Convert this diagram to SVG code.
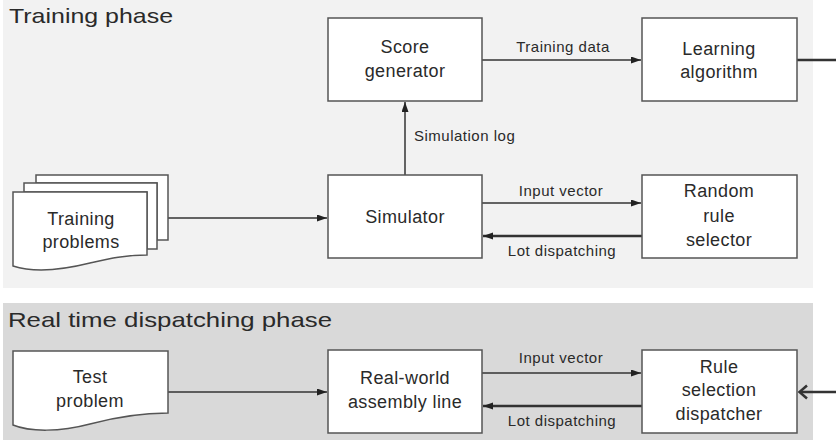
<svg xmlns="http://www.w3.org/2000/svg" width="836" height="440" viewBox="0 0 836 440">
  <style>
    .panel-a { fill: #f2f2f2; }
    .panel-b { fill: #d9d9d9; }
    .box { fill: #ffffff; stroke: #555555; stroke-width: 1.5; }
    .doc { fill: #ffffff; stroke: #555555; stroke-width: 1.5; stroke-linejoin: miter; }
    text { font-family: "Liberation Sans", Arial, sans-serif; fill: #2a2a2a; }
    .title { font-size: 21px; }
    .node { font-size: 18px; text-anchor: middle; letter-spacing: 0.4px; }
    .lbl { font-size: 15px; text-anchor: middle; letter-spacing: 0.5px; }
    .lbl-start { font-size: 15px; letter-spacing: 0.5px; }
    .edge { stroke: #333333; stroke-width: 1.5; fill: none; }
    .edge-bold { stroke: #333333; stroke-width: 2.5; fill: none; }
  </style>
  <defs>
    <marker id="arrow" markerUnits="userSpaceOnUse" markerWidth="11" markerHeight="8" refX="10" refY="3.5" orient="auto">
      <path d="M0,0 L10,3.5 L0,7 z" fill="#222222"/>
    </marker>
  </defs>

  <!-- phase panels -->
  <rect class="panel-a" x="3" y="0" width="810" height="288"/>
  <rect class="panel-b" x="3" y="303" width="810" height="137"/>
  <text class="title" x="9" y="23" textLength="164" lengthAdjust="spacingAndGlyphs">Training phase</text>
  <text class="title" x="8" y="327" textLength="324" lengthAdjust="spacingAndGlyphs">Real time dispatching phase</text>

  <!-- connectors -->
  <g id="connectors">
    <line class="edge" x1="482" y1="60" x2="641" y2="60" marker-end="url(#arrow)"/>
    <text class="lbl" x="563" y="52">Training data</text>
    <line class="edge" x1="405" y1="175" x2="405" y2="102" marker-end="url(#arrow)"/>
    <text class="lbl-start" x="414" y="141">Simulation log</text>
    <line class="edge" x1="168" y1="218" x2="327" y2="218" marker-end="url(#arrow)"/>
    <line class="edge" x1="482" y1="203" x2="641" y2="203" marker-end="url(#arrow)"/>
    <text class="lbl" x="561" y="196">Input vector</text>
    <line class="edge-bold" x1="642" y1="236" x2="483" y2="236" marker-end="url(#arrow)"/>
    <text class="lbl" x="562" y="256">Lot dispatching</text>
    <line class="edge-bold" x1="797" y1="60" x2="836" y2="60"/>

    <line class="edge" x1="168" y1="392" x2="327" y2="392" marker-end="url(#arrow)"/>
    <line class="edge" x1="482" y1="373" x2="641" y2="373" marker-end="url(#arrow)"/>
    <text class="lbl" x="561" y="363">Input vector</text>
    <line class="edge-bold" x1="642" y1="406" x2="483" y2="406" marker-end="url(#arrow)"/>
    <text class="lbl" x="562" y="426">Lot dispatching</text>
    <line class="edge-bold" x1="836" y1="392" x2="800" y2="392"/>
    <polyline class="edge-bold" points="807,385.5 799.5,392 807,398.5"/>
  </g>

  <!-- training phase nodes -->
  <g id="training-problems">
    <path class="doc" d="M36,175 H168 V240 H157 V183 H36 Z"/>
    <path class="doc" d="M24,183 H157 V249 H147 V192 H24 Z"/>
    <path class="doc" d="M13,192 H147 V255 C125,255 108,259 90,263 C62,270 35,273 13,266 Z"/>
    <text class="node" x="81" y="225">Training</text>
    <text class="node" x="81" y="248">problems</text>
  </g>
  <g id="score-generator">
    <rect class="box" x="328" y="18" width="154" height="83"/>
    <text class="node" x="405" y="53">Score</text>
    <text class="node" x="405" y="77">generator</text>
  </g>
  <g id="learning-algorithm">
    <rect class="box" x="642" y="18" width="155" height="83"/>
    <text class="node" x="719" y="55">Learning</text>
    <text class="node" x="719" y="78">algorithm</text>
  </g>
  <g id="simulator">
    <rect class="box" x="328" y="175" width="154" height="83"/>
    <text class="node" x="405" y="223">Simulator</text>
  </g>
  <g id="random-rule-selector">
    <rect class="box" x="642" y="175" width="155" height="83"/>
    <text class="node" x="719" y="197">Random</text>
    <text class="node" x="719" y="222">rule</text>
    <text class="node" x="719" y="246">selector</text>
  </g>

  <!-- real time dispatching phase nodes -->
  <g id="test-problem">
    <path class="doc" d="M13,351 H168 V413 C145,413 120,416 90,424 C60,432 30,432 13,425 Z"/>
    <text class="node" x="90" y="383">Test</text>
    <text class="node" x="90" y="407">problem</text>
  </g>
  <g id="real-world-line">
    <rect class="box" x="328" y="350" width="154" height="83"/>
    <text class="node" x="405" y="384">Real-world</text>
    <text class="node" x="405" y="408">assembly line</text>
  </g>
  <g id="rule-selection-dispatcher">
    <rect class="box" x="642" y="350" width="155" height="83"/>
    <text class="node" x="719" y="373">Rule</text>
    <text class="node" x="719" y="396">selection</text>
    <text class="node" x="719" y="420">dispatcher</text>
  </g>
</svg>
